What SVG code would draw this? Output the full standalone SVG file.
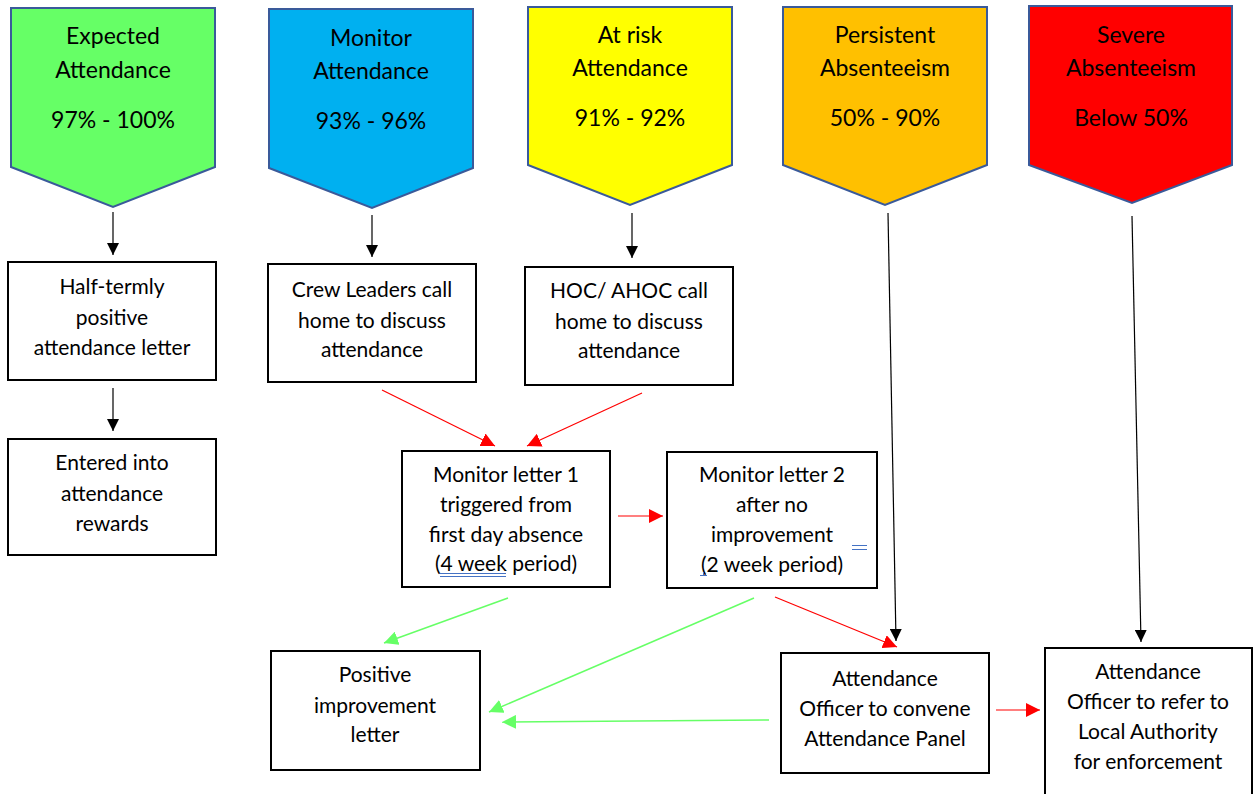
<svg xmlns="http://www.w3.org/2000/svg" width="1253" height="794" viewBox="0 0 1253 794">
<defs>
<style>
.pent{stroke:#3A5A9A;stroke-width:2}
.box{fill:#fff;stroke:#000;stroke-width:2}
text{font-family:Lato,"Liberation Sans",sans-serif;font-size:21px;fill:#000;text-anchor:middle}
.pt{font-size:23px}
.bk{stroke:#000;stroke-width:1.2;fill:none}
.rd{stroke:#FF0000;stroke-width:1.2;fill:none}
.gr{stroke:#66FF66;stroke-width:1.5;fill:none}
.ul{stroke:#4472C4;stroke-width:1}
</style>
<marker id="ab" markerWidth="12" markerHeight="12" viewBox="0 0 12 12" refX="12" refY="6" orient="auto" markerUnits="userSpaceOnUse"><path d="M0,0 L12,6 L0,12 Z" fill="#000"/></marker>
<marker id="ar" markerWidth="14" markerHeight="14" viewBox="0 0 12 12" refX="12" refY="6" orient="auto" markerUnits="userSpaceOnUse"><path d="M0,0 L12,6 L0,12 Z" fill="#FF0000"/></marker>
<marker id="ag" markerWidth="14" markerHeight="14" viewBox="0 0 12 12" refX="12" refY="6" orient="auto" markerUnits="userSpaceOnUse"><path d="M0,0 L12,6 L0,12 Z" fill="#66FF66"/></marker>
</defs>
<rect width="1253" height="794" fill="#fff"/>

<g id="expected">
<polygon class="pent" fill="#66FF66" points="11,8 215,8 215,167 113,207 11,167"/>
<text class="pt" x="113" y="44">Expected</text>
<text class="pt" x="113" y="78">Attendance</text>
<text class="pt" x="113" y="128">97% - 100%</text>
</g>
<g id="monitor">
<polygon class="pent" fill="#00B0F0" points="269,9 473,9 473,168 372,208 269,168"/>
<text class="pt" x="371" y="46">Monitor</text>
<text class="pt" x="371" y="79">Attendance</text>
<text class="pt" x="371" y="129">93% - 96%</text>
</g>
<g id="atrisk">
<polygon class="pent" fill="#FFFF00" points="528,7 732,7 732,165 630,205 528,165"/>
<text class="pt" x="630" y="43">At risk</text>
<text class="pt" x="630" y="76">Attendance</text>
<text class="pt" x="630" y="126">91% - 92%</text>
</g>
<g id="persistent">
<polygon class="pent" fill="#FFC000" points="783,7 987,7 987,165 885,205 783,165"/>
<text class="pt" x="885" y="43">Persistent</text>
<text class="pt" x="885" y="76">Absenteeism</text>
<text class="pt" x="885" y="126">50% - 90%</text>
</g>
<g id="severe">
<polygon class="pent" fill="#FF0000" points="1029,6 1232,6 1232,165 1132,203 1029,165"/>
<text class="pt" x="1131" y="43">Severe</text>
<text class="pt" x="1131" y="76">Absenteeism</text>
<text class="pt" x="1131" y="126">Below 50%</text>
</g>

<g id="halftermly">
<rect class="box" x="8" y="262" width="208" height="118"/>
<text x="112" y="294">Half-termly</text>
<text x="112" y="325">positive</text>
<text x="112" y="355">attendance letter</text>
</g>
<g id="entered">
<rect class="box" x="8" y="439" width="208" height="116"/>
<text x="112" y="470">Entered into</text>
<text x="112" y="501">attendance</text>
<text x="112" y="531">rewards</text>
</g>
<g id="crew">
<rect class="box" x="268" y="264" width="208" height="118"/>
<text x="372" y="297">Crew Leaders call</text>
<text x="372" y="328">home to discuss</text>
<text x="372" y="357">attendance</text>
</g>
<g id="hoc">
<rect class="box" x="525" y="267" width="208" height="118"/>
<text x="629" y="298">HOC/ AHOC call</text>
<text x="629" y="329">home to discuss</text>
<text x="629" y="358">attendance</text>
</g>
<g id="letter1">
<rect class="box" x="402" y="451" width="208" height="136"/>
<text x="506" y="482">Monitor letter 1</text>
<text x="506" y="512">triggered from</text>
<text x="506" y="542">first day absence</text>
<text x="506" y="571">(4 week period)</text>
<line class="ul" x1="440" y1="573.5" x2="506" y2="573.5"/>
<line class="ul" x1="440" y1="576.5" x2="506" y2="576.5"/>
</g>
<g id="letter2">
<rect class="box" x="667" y="452" width="210" height="136"/>
<text x="772" y="482">Monitor letter 2</text>
<text x="772" y="512">after no</text>
<text x="772" y="542">improvement</text>
<text x="772" y="572">(2 week period)</text>
<line class="ul" x1="852" y1="545.5" x2="867" y2="545.5"/>
<line class="ul" x1="852" y1="549.5" x2="867" y2="549.5"/>
<line class="ul" x1="700" y1="575.5" x2="707" y2="575.5"/>
<line class="ul" x1="703.5" y1="572" x2="703.5" y2="575.5"/>
</g>
<g id="positive">
<rect class="box" x="271" y="651" width="209" height="119"/>
<text x="375" y="682">Positive</text>
<text x="375" y="713">improvement</text>
<text x="375" y="742">letter</text>
</g>
<g id="panel">
<rect class="box" x="781" y="653" width="208" height="120"/>
<text x="885" y="686">Attendance</text>
<text x="885" y="716">Officer to convene</text>
<text x="885" y="746">Attendance Panel</text>
</g>
<g id="localauthority">
<rect class="box" x="1045" y="648" width="207" height="150"/>
<text x="1148" y="679">Attendance</text>
<text x="1148" y="709">Officer to refer to</text>
<text x="1148" y="739">Local Authority</text>
<text x="1148" y="769">for enforcement</text>
</g>

<g id="connectors">
<line class="bk" x1="113" y1="212" x2="113" y2="255" marker-end="url(#ab)"/>
<line class="bk" x1="113" y1="388" x2="113" y2="431" marker-end="url(#ab)"/>
<line class="bk" x1="372" y1="215" x2="372" y2="257" marker-end="url(#ab)"/>
<line class="bk" x1="632" y1="213" x2="632" y2="258" marker-end="url(#ab)"/>
<line class="bk" x1="888" y1="213" x2="896" y2="641" marker-end="url(#ab)"/>
<line class="bk" x1="1132" y1="216" x2="1141" y2="642" marker-end="url(#ab)"/>
<line class="rd" x1="382" y1="390" x2="495" y2="446" marker-end="url(#ar)"/>
<line class="rd" x1="642" y1="393" x2="527" y2="446" marker-end="url(#ar)"/>
<line class="rd" x1="618" y1="516" x2="663" y2="516" marker-end="url(#ar)"/>
<line class="rd" x1="775" y1="597" x2="897" y2="647" marker-end="url(#ar)"/>
<line class="rd" x1="996" y1="710" x2="1040" y2="710" marker-end="url(#ar)"/>
<line class="gr" x1="508" y1="598" x2="384" y2="643" marker-end="url(#ag)"/>
<line class="gr" x1="754" y1="598" x2="489" y2="712" marker-end="url(#ag)"/>
<line class="gr" x1="769" y1="720" x2="502" y2="722" marker-end="url(#ag)"/>
</g>
</svg>
